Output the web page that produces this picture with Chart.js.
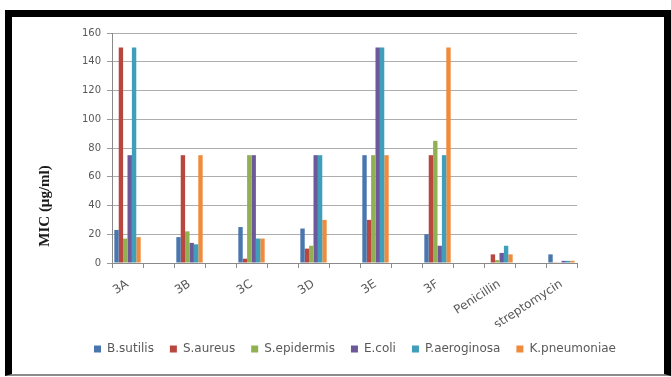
<!DOCTYPE html>
<html>
<head>
<meta charset="utf-8">
<script src="https://cdn.jsdelivr.net/npm/chart.js@4"></script>
<style>
  html, body { margin: 0; padding: 0; background: #fff; }
  #frame {
    position: absolute; left: 5px; top: 10px;
    width: 652px; height: 357px;
    border: 7px solid #000; border-bottom: 2px solid #8c8c8c;
    background: #fff;
  }
  #frame canvas { display: block; }
</style>
</head>
<body>
<div id="frame"><canvas id="mic" width="652" height="357"></canvas></div>
<script>
// Compounds tested and MIC values (µg/ml) against each organism
const categories  = ['3A', '3B', '3C', '3D', '3E', '3F', 'Penicillin', 'streptomycin'];
const bSubtilis   = [23, 18, 25, 24, 75, 20, 0, 6];
const sAureus     = [150, 75, 3, 10, 30, 75, 6, 0.5];
const sEpidermis  = [17, 22, 75, 12, 75, 85, 2, 0.5];
const eColi       = [75, 14, 75, 75, 150, 12, 7, 1.5];
const pAeroginosa = [150, 13, 17, 75, 150, 75, 12, 1.5];
const kPneumoniae = [18, 75, 17, 30, 75, 150, 6, 1.5];
const yTitle = 'MIC (μg/ml)';

// an empty slot sits between consecutive compounds on the category axis
const spaced = arr => arr.flatMap((v, i) => i < arr.length - 1 ? [v, null] : [v]);
const labels = spaced(categories).map(v => v === null ? '' : v);

const series = [
  ['B.sutilis',    bSubtilis,   '#4a76ae'],
  ['S.aureus',     sAureus,     '#b8473f'],
  ['S.epidermis',  sEpidermis,  '#90b052'],
  ['E.coli',       eColi,       '#6d589a'],
  ['P.aeroginosa', pAeroginosa, '#3f9eba'],
  ['K.pneumoniae', kPneumoniae, '#f08b3c']
];

const tickFont = { family: 'DejaVu Sans', size: 10 };
const labelFont = { family: 'DejaVu Sans', size: 12 };

// legend row spread across the lower band
const legendSpan = {
  id: 'legendSpan',
  afterLayout(chart) {
    chart.legend.left = 60;
    chart.legend.right = 626;
  }
};

// rotated value-axis title
const axisTitle = {
  id: 'axisTitle',
  afterDraw(chart) {
    const ctx = chart.ctx;
    ctx.save();
    ctx.translate(33, 189);
    ctx.rotate(-Math.PI / 2);
    ctx.textAlign = 'center';
    ctx.textBaseline = 'middle';
    ctx.fillStyle = '#1a1a1a';
    ctx.font = 'bold 15px "Liberation Serif"';
    ctx.fillText(yTitle, 0, 0);
    ctx.restore();
  }
};

new Chart(document.getElementById('mic'), {
  type: 'bar',
  data: {
    labels,
    datasets: series.map(([name, vals, color]) => ({
      label: name,
      data: spaced(vals),
      backgroundColor: color,
      borderWidth: 0,
      categoryPercentage: 0.85,
      barPercentage: 1.0
    }))
  },
  options: {
    responsive: false,
    devicePixelRatio: 1,
    animation: false,
    layout: { padding: { top: 16, bottom: 9, left: 0, right: 0 } },
    scales: {
      x: {
        grid: { drawOnChartArea: false, tickLength: 5, color: '#8a8a8a' },
        border: { color: '#8a8a8a' },
        ticks: {
          autoSkip: false, minRotation: 33, maxRotation: 33, padding: 9,
          color: '#595959', font: labelFont
        },
        afterFit(s) { s.height = 64; }
      },
      y: {
        min: 0, max: 160,
        ticks: { stepSize: 20, padding: 6, color: '#595959', font: tickFont },
        grid: { color: '#adadad', tickLength: 5, tickColor: '#9a9a9a' },
        border: { color: '#8a8a8a' },
        afterFit(s) { s.width = 100; }
      },
      yRight: {
        position: 'right', display: true,
        grid: { display: false }, border: { display: false }, ticks: { display: false },
        afterFit(s) { s.width = 87; }
      }
    },
    plugins: {
      legend: {
        position: 'bottom',
        labels: {
          boxWidth: 7, boxHeight: 7, padding: 16,
          color: '#595959', font: labelFont
        }
      },
      tooltip: { enabled: false }
    }
  },
  plugins: [legendSpan, axisTitle]
});
</script>
</body>
</html>
